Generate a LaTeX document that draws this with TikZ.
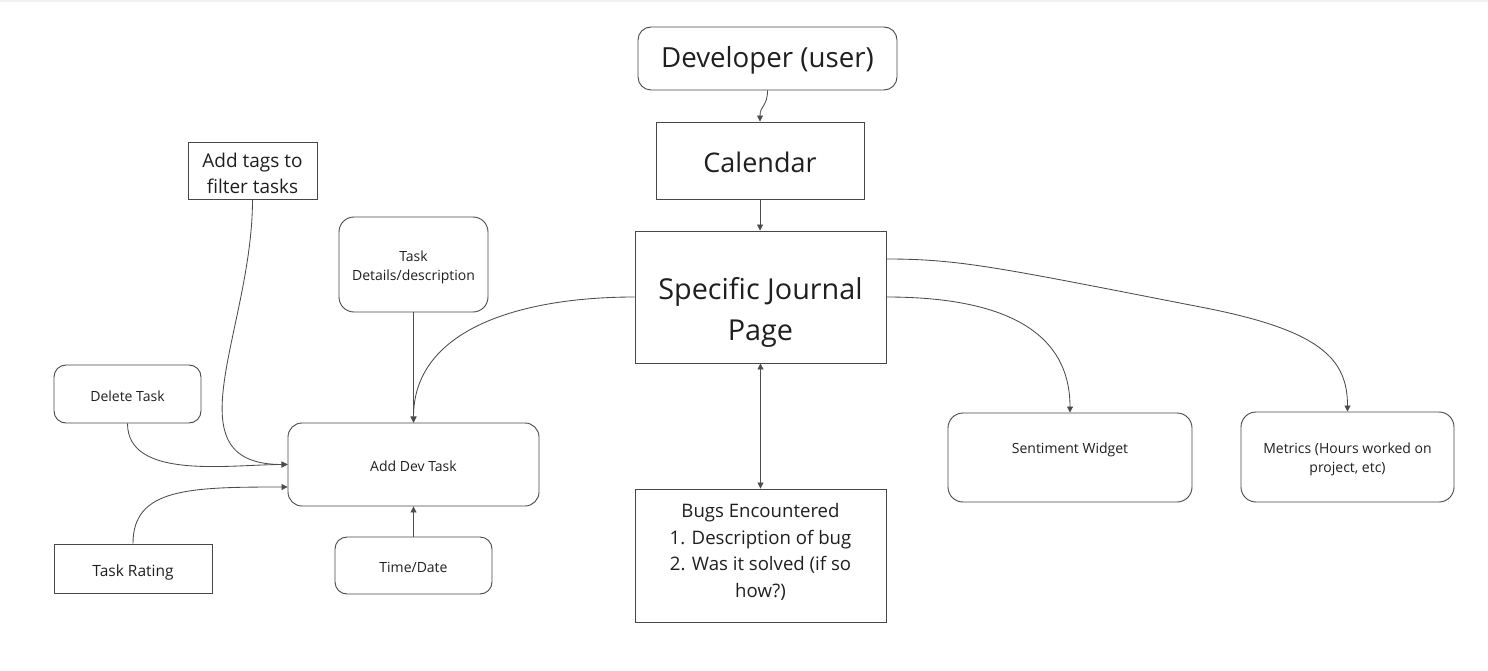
\documentclass[tikz,border=0pt]{standalone}
\usepackage{fontspec}
\setmainfont{Open Sans}
\usetikzlibrary{arrows.meta}
\newcommand\txtsize[2]{\fontsize{#1}{#2}\selectfont}
\begin{document}
\begin{tikzpicture}[x=1pt,y=-1pt,
  box/.style={draw=black!72, line width=0.9pt, inner sep=0pt},
  rbox/.style={box, rounded corners=#1},
  lbl/.style={text=black!88, align=center, inner sep=0pt, yshift=-2pt},
  conn/.style={draw=black!70, line width=0.85pt, -{Triangle[length=6pt,width=6pt]}},
  bothconn/.style={conn, {Triangle[length=6pt,width=6pt]}-{Triangle[length=6pt,width=6pt]}}
]
\useasboundingbox (0,0) rectangle (1488,671);
\fill[black!5] (0,0) rectangle (1488,2);

% boxes
\node[rbox=13pt, minimum width=259pt, minimum height=63pt] (dev) at (767.5,58.5) {};
\node[box, minimum width=208pt, minimum height=77pt] (cal) at (760,160.5) {};
\node[box, minimum width=251pt, minimum height=132pt] (journal) at (760.5,297) {};
\node[box, minimum width=251pt, minimum height=133pt] (bugs) at (760.5,555.5) {};
\node[box, minimum width=129pt, minimum height=57pt] (tags) at (252.5,170.5) {};
\node[rbox=15pt, minimum width=149pt, minimum height=95pt] (details) at (413.5,264.5) {};
\node[rbox=12pt, minimum width=147pt, minimum height=58pt] (delete) at (127.5,394) {};
\node[rbox=14pt, minimum width=251pt, minimum height=83pt] (adddev) at (413.5,464.5) {};
\node[box, minimum width=158pt, minimum height=49pt] (rating) at (133,568.5) {};
\node[rbox=12pt, minimum width=157pt, minimum height=57pt] (timedate) at (413.5,565.5) {};
\node[rbox=15pt, minimum width=244pt, minimum height=89pt] (senti) at (1070,457.5) {};
\node[rbox=15pt, minimum width=213pt, minimum height=90pt] (metrics) at (1347.5,457) {};

% labels
\node[lbl, font=\txtsize{27.7}{36}] (dev-t) at (dev) {Developer (user)};
\node[lbl, font=\txtsize{27}{36}] (cal-t) at (cal) {Calendar};
\node[lbl, font=\txtsize{28.8}{41}] (journal-t) at (760.5,310.5) {Specific Journal\\Page};
\node[lbl, font=\txtsize{18.6}{26.5}] (bugs-t) at (760.5,550) {Bugs Encountered\\1. Description of bug\\2. Was it solved (if so\\how?)};
\node[lbl, font=\txtsize{19}{26}] (tags-t) at (252.5,171) {Add tags to\\filter tasks};
\node[lbl, font=\txtsize{14}{19}] (details-t) at (413.5,265.5) {Task\\Details/description};
\node[lbl, font=\txtsize{14}{19}] (delete-t) at (delete) {Delete Task};
\node[lbl, font=\txtsize{14}{19}] (adddev-t) at (adddev) {Add Dev Task};
\node[lbl, font=\txtsize{15.5}{19}] (rating-t) at (133,570) {Task Rating};
\node[lbl, font=\txtsize{14}{19}] (timedate-t) at (timedate) {Time/Date};
\node[lbl, font=\txtsize{14}{19}] (senti-t) at (1070,448) {Sentiment Widget};
\node[lbl, font=\txtsize{14}{19}] (metrics-t) at (metrics) {Metrics (Hours worked on\\project, etc)};

% connectors
\draw[conn] (dev.south) .. controls +(0,16) and +(0,-16) .. (cal.north);
\draw[conn] (cal.south) -- (cal.south |- journal.north);
\draw[bothconn] (journal.south) -- (bugs.north);
\draw[conn] (journal.west) .. controls +(-115,0) and +(0,-93) .. (adddev.north);
\draw[conn] (details.south) -- (adddev.north);
\draw[conn] (timedate.north) -- (adddev.south);
\draw[conn] (tags.south) .. controls +(0,131) and +(-120,0) .. (adddev.west);
\draw[conn] (delete.south) .. controls +(0,57) and +(-58,0) .. (adddev.west);
\draw[conn] (rating.north) .. controls +(0,-55) and +(-100,0) .. ([yshift=-22.5pt]adddev.west);
\draw[conn] (journal.east) .. controls +(114,0) and +(0,-83) .. (senti.north);
\draw[conn] ([yshift=38pt]journal.east) .. controls +(74,0) and +(-200,-39) .. ++(314,48)
  .. controls +(120,23) and +(0,-53) .. (metrics.north);
\end{tikzpicture}
\end{document}
